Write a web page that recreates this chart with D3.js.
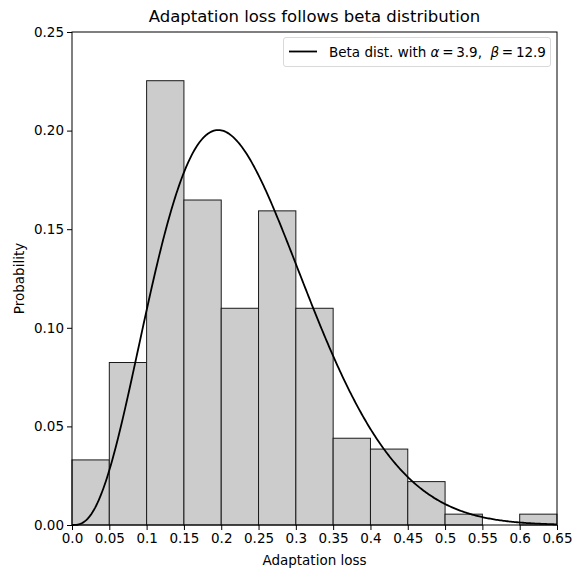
<!DOCTYPE html>
<html>
<head>
<meta charset="utf-8">
<script src="https://cdn.jsdelivr.net/npm/d3@7"></script>
<style>
  body { margin: 0; background: #fff; }
  svg { display: block; font-family: "DejaVu Sans", sans-serif; }
</style>
</head>
<body>
<svg id="chart" width="573" height="572"></svg>
<script>
// ---- data ----
const binEdges = [0.0, 0.05, 0.1, 0.15, 0.2, 0.25, 0.3, 0.35, 0.4, 0.45, 0.5, 0.55, 0.6, 0.65];
const binProbs = [0.033, 0.0824, 0.2253, 0.1648, 0.1099, 0.1593, 0.1099, 0.044, 0.0385, 0.022, 0.0055, 0.0, 0.0055];
const betaAlpha = 3.9;
const betaBeta = 12.9;
const binWidth = 0.05;
const xTicks = [0.0, 0.05, 0.1, 0.15, 0.2, 0.25, 0.3, 0.35, 0.4, 0.45, 0.5, 0.55, 0.6, 0.65];
const xTickLabels = ["0.0", "0.05", "0.1", "0.15", "0.2", "0.25", "0.3", "0.35", "0.4", "0.45", "0.5", "0.55", "0.6", "0.65"];
const yTicks = [0.0, 0.05, 0.1, 0.15, 0.2, 0.25];
const yTickLabels = ["0.00", "0.05", "0.10", "0.15", "0.20", "0.25"];

// ---- layout ----
const svg = d3.select("#chart");
const L = 72, R = 557, T = 32, B = 525;
const x = d3.scaleLinear().domain([0, 0.65]).range([L, R]);
const y = d3.scaleLinear().domain([0, 0.25]).range([B, T]);

// beta pdf (fitted distribution with stated parameters)
function lgamma(z) {
  const g = 7, c = [0.99999999999980993, 676.5203681218851, -1259.1392167224028,
    771.32342877765313, -176.61502916214059, 12.507343278686905,
    -0.13857109526572012, 9.9843695780195716e-6, 1.5056327351493116e-7];
  if (z < 0.5) return Math.log(Math.PI / Math.sin(Math.PI * z)) - lgamma(1 - z);
  z -= 1;
  let a = c[0];
  const t = z + g + 0.5;
  for (let i = 1; i < g + 2; i++) a += c[i] / (z + i);
  return 0.5 * Math.log(2 * Math.PI) + (z + 0.5) * Math.log(t) - t + Math.log(a);
}
const lnB = lgamma(betaAlpha) + lgamma(betaBeta) - lgamma(betaAlpha + betaBeta);
function betaPdf(t) {
  if (t <= 0 || t >= 1) return 0;
  return Math.exp((betaAlpha - 1) * Math.log(t) + (betaBeta - 1) * Math.log(1 - t) - lnB);
}

// bars
const bars = binProbs.map((p, i) => ({ x0: binEdges[i], x1: binEdges[i + 1], p }));
svg.append("g").selectAll("rect").data(bars).enter().append("rect")
  .attr("x", d => x(d.x0))
  .attr("y", d => y(d.p))
  .attr("width", d => x(d.x1) - x(d.x0))
  .attr("height", d => y(0) - y(d.p))
  .attr("fill", "#cccccc")
  .attr("stroke", "#1a1a1a")
  .attr("stroke-width", 1);

// curve
const curvePts = d3.range(0, 0.6500001, 0.65 / 400).map(t => [t, betaPdf(t) * binWidth]);
svg.append("path")
  .datum(curvePts)
  .attr("fill", "none")
  .attr("stroke", "#000")
  .attr("stroke-width", 1.8)
  .attr("d", d3.line().x(d => x(d[0])).y(d => y(d[1])));

// spines
svg.append("rect").attr("x", L).attr("y", T).attr("width", R - L).attr("height", B - T)
  .attr("fill", "none").attr("stroke", "#000").attr("stroke-width", 1);

// axes
const xAxis = d3.axisBottom(x).tickValues(xTicks).tickSize(5).tickPadding(3)
  .tickFormat((d, i) => xTickLabels[i]);
const gx = svg.append("g").attr("transform", `translate(0,${B})`).call(xAxis);
gx.select(".domain").remove();
gx.selectAll("text").attr("font-size", 13.5).attr("font-family", "DejaVu Sans").attr("fill", "#000");
gx.selectAll("line").attr("stroke", "#000");

const yAxis = d3.axisLeft(y).tickValues(yTicks).tickSize(5).tickPadding(3)
  .tickFormat((d, i) => yTickLabels[i]);
const gy = svg.append("g").attr("transform", `translate(${L},0)`).call(yAxis);
gy.select(".domain").remove();
gy.selectAll("text").attr("font-size", 13.5).attr("font-family", "DejaVu Sans").attr("fill", "#000");
gy.selectAll("line").attr("stroke", "#000");

// labels
svg.append("text").attr("x", (L + R) / 2).attr("y", 22).attr("text-anchor", "middle")
  .attr("font-size", 16.5).text("Adaptation loss follows beta distribution");
svg.append("text").attr("x", (L + R) / 2).attr("y", 565).attr("text-anchor", "middle")
  .attr("font-size", 13.5).text("Adaptation loss");
svg.append("text").attr("transform", `translate(24,${(T + B) / 2}) rotate(-90)`)
  .attr("text-anchor", "middle").attr("font-size", 13.5).text("Probability");

// legend
const lg = svg.append("g");
lg.append("rect").attr("x", 283.5).attr("y", 37.5).attr("width", 267).attr("height", 29)
  .attr("rx", 2.5).attr("fill", "#fff").attr("fill-opacity", 0.8)
  .attr("stroke", "#d9d9d9").attr("stroke-width", 1);
lg.append("line").attr("x1", 289).attr("x2", 317).attr("y1", 51.5).attr("y2", 51.5)
  .attr("stroke", "#000").attr("stroke-width", 1.8);
const lt = lg.append("text").attr("x", 329).attr("y", 56.5).attr("font-size", 13.5)
  .style("white-space", "pre");
lt.append("tspan").text("Beta dist. with ");
lt.append("tspan").attr("font-style", "italic").text("α");
lt.append("tspan").text("\u2009=\u20093.9,\u00a0\u00a0");
lt.append("tspan").attr("font-style", "italic").text("β");
lt.append("tspan").text("\u2009=\u200912.9");
</script>
</body>
</html>
